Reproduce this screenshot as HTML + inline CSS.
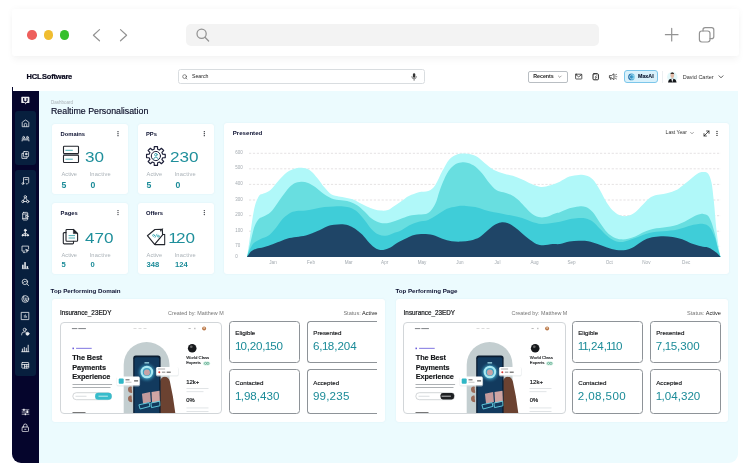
<!DOCTYPE html>
<html><head><meta charset="utf-8">
<style>
*{margin:0;padding:0;box-sizing:border-box}
html,body{width:750px;height:468px;background:#fff;overflow:hidden}
body{position:relative;font-family:"Liberation Sans",sans-serif;color:#0b1030}
.a{position:absolute}
.t{position:absolute;white-space:nowrap;line-height:1}
.card{position:absolute;background:#fff;border-radius:3px;box-shadow:0 0 2px rgba(110,160,180,.13)}
.teal{color:#1b8b98}
.gray{color:#a9b1b7}
svg{position:absolute;overflow:visible}
#w{position:absolute;left:0;top:0;width:750px;height:468px;will-change:transform;transform:translateZ(0)}
</style></head><body><div id="w">

<!-- browser chrome -->
<div class="a" id="chrome" style="left:12px;top:9px;width:727px;height:46.5px;background:#fff;border-radius:3px;box-shadow:0 0 7px rgba(0,0,0,.035),0 5px 6px rgba(0,0,0,.03)"></div>
<div class="a" style="left:27.2px;top:30.2px;width:9.6px;height:9.6px;border-radius:50%;background:#ee5f5c"></div>
<div class="a" style="left:43.6px;top:30.2px;width:9.6px;height:9.6px;border-radius:50%;background:#f0bd30"></div>
<div class="a" style="left:59.8px;top:30.2px;width:9.6px;height:9.6px;border-radius:50%;background:#35c02c"></div>
<svg style="left:0;top:0" width="750" height="60" fill="none" stroke="#939393" stroke-width="1.2" stroke-linecap="round" stroke-linejoin="round">
  <path d="M99.5 29.6 L93.4 35.2 L99.5 40.8"/>
  <path d="M120.5 29.6 L126.6 35.2 L120.5 40.8"/>
  <circle cx="201.6" cy="33.8" r="4.6"/><path d="M205 37.3 L208.6 41"/>
  <path d="M671.7 28.4 V41 M665.4 34.7 H678"/>
  <rect x="699.4" y="31" width="10.6" height="11" rx="2.4"/>
  <path d="M703 31 V29.8 a2.2 2.2 0 0 1 2.2 -2.2 H711.6 a2.2 2.2 0 0 1 2.2 2.2 V36.4 a2.2 2.2 0 0 1 -2.2 2.2 H710"/>
</svg>
<div class="a" style="left:186px;top:24px;width:413px;height:22px;border-radius:5px;background:#f3f3f3"></div>
<svg style="left:0;top:0" width="750" height="60" fill="none" stroke="#939393" stroke-width="1.25" stroke-linecap="round"><circle cx="201.6" cy="33.8" r="4.6"/><path d="M205 37.3 L208.6 41"/></svg>

<!-- app header -->
<div class="t" style="left:26.6px;top:72.8px;font-size:7.5px;font-weight:700;letter-spacing:-.2px;color:#0a0a1e;-webkit-text-stroke:.2px #0a0a1e">HCL<span style="margin-left:.6px">Software</span></div>
<div class="a" style="left:177.5px;top:69.3px;width:247px;height:15px;border:.7px solid #d9dde0;border-radius:2.5px;background:#fff"></div>
<div class="t" style="left:192px;top:74.2px;font-size:5.2px;color:#222">Search</div>
<div class="a" style="left:528.2px;top:70.8px;width:39.6px;height:12px;border:.7px solid #b9bec3;border-radius:2px"></div>
<div class="t" style="left:533.2px;top:74px;font-size:5.3px;font-weight:700;color:#222">Recents</div>
<div class="a" style="left:624px;top:70.3px;width:34px;height:13.2px;border:.8px solid #7cc6ea;border-radius:3px;background:#d9f1fb"></div>
<div class="t" style="left:638px;top:74.1px;font-size:5.3px;font-weight:700;color:#0c1830;-webkit-text-stroke:.12px #0c1830">MaxAI</div>
<div class="a" style="left:662px;top:71px;width:.7px;height:12px;background:#eceff1"></div>
<div class="t" style="left:682.8px;top:74.6px;font-size:5.5px;color:#333">David Carter</div>


<!-- header icons -->
<svg id="hdricons" style="left:0;top:0" width="750" height="95" fill="none" stroke="#222" stroke-width=".75" stroke-linecap="round" stroke-linejoin="round">
 <circle cx="184.6" cy="76.6" r="1.9" stroke="#444" stroke-width=".6"/><path d="M186 78 L187 79" stroke="#444" stroke-width=".6"/>
 <!-- mic -->
 <rect x="412.9" y="73.2" width="2.4" height="4.6" rx="1.2" fill="#333" stroke="none"/><path d="M411.8 76.6 a2.3 2.3 0 0 0 4.6 0 M414.1 79 V80.4" stroke="#333" stroke-width=".6"/>
 <!-- chevron recents -->
 <path d="M558.4 76 L559.8 77.4 L561.2 76" stroke-width=".55" stroke="#555"/>
 <!-- mail -->
 <rect x="575.6" y="74.2" width="6.2" height="4.8" rx=".5"/><path d="M575.8 74.6 L578.7 76.9 L581.6 74.6"/>
 <!-- clipboard -->
 <rect x="593" y="73.8" width="5.4" height="6" rx=".9" stroke-width="1"/><path d="M594.6 73.6 H596.8 M596.6 75.6 L595 77.2 H596.6 L595.4 78.8" stroke-width=".6"/>
 <!-- megaphone -->
 <path d="M609.8 75.6 H611.4 L614 73.8 V79.6 L611.4 77.9 H609.8 Z M610.8 78 V79.6"/><path d="M615.4 75 L616.6 74.4 M615.6 76.7 H616.9 M615.4 78.4 L616.6 79" stroke-width=".55"/>
 <!-- maxai logo -->
 <defs><linearGradient id="mx" x1="0" x2="1"><stop offset="0" stop-color="#1d5f9a"/><stop offset=".6" stop-color="#3aa0d0"/><stop offset="1" stop-color="#a5e3f3"/></linearGradient></defs><circle cx="631.6" cy="76.9" r="3.4" fill="url(#mx)" stroke="none"/><path d="M633.4 75.4 a2.2 2.2 0 1 0 0 3" stroke="#cfeefa" stroke-width=".7"/>
 <!-- avatar -->
 <g stroke="none">
  <circle cx="672.3" cy="77" r="5.2" fill="#e2f7f9"/>
  <path d="M668 82.6 L668.6 80.4 Q669 79.2 670.4 78.9 L672.3 78.4 L674.2 78.9 Q675.6 79.2 676 80.4 L676.6 82.6 Z" fill="#14161a"/>
  <path d="M671.2 78.6 L672.3 82.6 L673.4 78.6 Z" fill="#f4f6f7"/>
  <ellipse cx="672.3" cy="75.4" rx="1.85" ry="2.5" fill="#e2bba8"/>
  <path d="M670.3 74.8 Q670.2 72.4 672.3 72.3 Q674.4 72.4 674.3 74.8 L673.9 73.9 H670.7 Z" fill="#3b2c25"/>
 </g>
 <path d="M719 75.8 L721 77.8 L723 75.8" stroke-width=".8" stroke="#333"/>
 <!-- chart card controls -->
</svg>

<!-- content bg -->
<div class="a" style="left:38.8px;top:90.8px;width:699.4px;height:372.6px;background:#ecfbfe;border-radius:0 0 9px 0"></div>
<!-- sidebar -->
<div class="a" style="left:12.4px;top:90.8px;width:26.6px;height:372.6px;background:#05052c;border-radius:0 0 0 9px"></div>
<div class="a" style="left:12.4px;top:87px;width:.8px;height:5px;background:#05052c"></div>
<div class="a" style="left:15.4px;top:111.2px;width:20.6px;height:54.2px;background:#071f3e;border-radius:3px"></div>
<div class="a" style="left:15.4px;top:169.7px;width:20.6px;height:206.3px;background:#071f3e;border-radius:3px"></div>


<!-- sidebar icons -->
<svg id="sideicons" style="left:0;top:0" width="60" height="468" opacity=".93" fill="none" stroke="#fff" stroke-width=".78" stroke-linecap="round" stroke-linejoin="round">
 <!-- logo -->
 <path d="M21.9 96.7 H28.8 a.6 .6 0 0 1 .6 .6 V102.4 a.6 .6 0 0 1 -.6 .6 H26.5 L25.1 104.6 V103 H21.9 a.6 .6 0 0 1 -.6 -.6 V97.3 a.6 .6 0 0 1 .6 -.6 Z" fill="#fff" stroke="none"/>
 <path d="M23.7 97.9 V100.2 a1.65 1.65 0 0 0 3.3 0 V97.9" stroke="#05052c" stroke-width="1.2" stroke-linecap="butt"/>
 <!-- home -->
 <g transform="translate(25.5 123.3)"><path d="M-3.3 3 V-.7 Q-3.3 -1.1 -3 -1.4 L0 -3.3 L3 -1.4 Q3.3 -1.1 3.3 -.7 V3 Z M-1.2 3 V1.2 a1.2 1.2 0 0 1 2.4 0 V3"/></g>
 <!-- group -->
 <g transform="translate(25.5 138.7)"><circle cx="-1.9" cy="-1.4" r=".9"/><circle cx="1.9" cy="-1.4" r=".9"/><path d="M-3.4 2.3 V1.2 H3.4 V2.3 M-3.4 .2 H3.4"/></g>
 <!-- images -->
 <g transform="translate(25.2 155)"><rect x="-1.8" y="-3.4" width="5.2" height="5.2" rx=".8"/><path d="M-1.8 -1.6 H-3.3 V3.4 H1.8 V1.8"/><circle cx="1" cy="-1" r=".8" fill="#fff"/></g>
 <!-- note -->
 <g transform="translate(25.5 181)"><path d="M-2 2 V-3.4 H3.2 V.6 M-.4 -1.4 H1.8"/><circle cx="-2.6" cy="2.6" r=".9"/><path d="M.6 2.4 L1.6 3.3 L3.3 1.4"/></g>
 <!-- network -->
 <g transform="translate(25.3 199.2)"><circle cx="0" cy="-2.4" r="1.2"/><circle cx="-2.4" cy="2.3" r="1.2"/><circle cx="2.4" cy="2.3" r="1.2"/><path d="M-.6 -1.3 L-1.9 1.2 M.6 -1.3 L1.9 1.2 M-1.2 2.3 H1.2"/></g>
 <!-- device -->
 <g transform="translate(25.5 216.2)"><rect x="-2.8" y="-3.8" width="5" height="7.6" rx=".9"/><path d="M-2.8 -2.2 H2.2 M-2.8 2.2 H2.2 M.6 -.9 L3.2 .2 L.6 1.2 Z" /></g>
 <!-- hierarchy -->
 <g transform="translate(25.3 232.7)"><circle cx="0" cy="-2.4" r="1" fill="#fff"/><path d="M0 -1.4 V3 M0 .4 L-2.6 1.8 V3 M0 .4 L2.6 1.8 V3"/><circle cx="-2.6" cy="2.6" r=".7" fill="#fff"/><circle cx="2.6" cy="2.6" r=".7" fill="#fff"/><circle cx="0" cy="2.6" r=".7" fill="#fff"/></g>
 <!-- monitor -->
 <g transform="translate(25.3 249.3)"><path d="M-.8 1.8 H-3.3 V-3.2 H3.3 V-.4 M-2 3.3 H-.2"/><path d="M.6 0 L3.4 1 L2.2 1.6 L1.6 2.8 Z" fill="#fff" stroke-width=".5"/></g>
 <!-- bars -->
 <g transform="translate(25.3 265.5)" stroke="none" fill="#fff"><rect x="-3.2" y="-.8" width="1.5" height="4"/><rect x="-1" y="-3.4" width="1.5" height="6.6"/><rect x="1.3" y=".6" width="1.5" height="2.6"/><rect x="-3.4" y="3" width="7" height=".6"/></g>
 <!-- search analytic -->
 <g transform="translate(25.3 282.3)"><circle cx="-.4" cy="-.4" r="2.7"/><path d="M1.6 1.6 L3.4 3.3 M-1.8 .2 L-.6 -1 L.2 -.2 L1.2 -1.4"/></g>
 <!-- gauge -->
 <g transform="translate(25.3 299)"><circle cx="0" cy="0" r="3.4"/><path d="M-1.6 -2.9 V.4 a1.6 1.6 0 0 0 3.2 0 V-1 M0 -1 V.6 M2.2 2.4 L1.2 1.2"/></g>
 <!-- square chart -->
 <g transform="translate(25.2 316)"><rect x="-3.6" y="-3.6" width="7.2" height="7.2" stroke-width=".8"/><path d="M-.9 -.6 V1.4 M.2 -1.2 V1.4 M1.3 .2 V1.4" stroke-width=".6"/></g>
 <!-- user settings -->
 <g transform="translate(25.3 331.7)"><circle cx="-.6" cy="-2" r="1.5"/><path d="M-3.6 3.2 V2.6 a2.4 2.4 0 0 1 2.4 -2.4 H.2"/><circle cx="2.2" cy="2" r="1.5" fill="#fff"/></g>
 <!-- bars2 -->
 <g transform="translate(25.3 348.4)" stroke-width=".9"><path d="M-2.9 3 V.6 M-1 3 V-1 M1 3 V-.2 M2.9 3 V-3.2 M-3.6 3.3 H3.6" /></g>
 <!-- table -->
 <g transform="translate(25.3 365.3)"><rect x="-3.4" y="-2.8" width="6.8" height="5.6" rx=".4"/><path d="M-3.4 -.8 H3.4 M-.8 -.8 V2.8 M-.8 1 H3.4 M1.4 -.8 V2.8"/></g>
 <!-- sliders -->
 <g transform="translate(25.5 412)" stroke-width=".7"><path d="M-3.4 -2.2 H3.4 M-3.4 0 H3.4 M-3.4 2.2 H3.4"/><rect x="-2.4" y="-3.2" width="1.6" height="2" fill="#fff" stroke="none"/><rect x="1" y="-1.6" width="1.6" height="2.6" fill="#fff" stroke="none"/><rect x="-.8" y="1.4" width="1.4" height="1.8" fill="#fff" stroke="none"/></g>
 <!-- lock -->
 <g transform="translate(25.3 428)"><rect x="-3.2" y="-1" width="6.4" height="4.6" rx=".8"/><path d="M-1.8 -1 V-2.2 a1.8 1.8 0 0 1 3.6 0 V-1 M-.6 1.3 H.6" /></g>
</svg>

<!-- titles -->
<div class="t gray" style="left:51px;top:101.2px;font-size:4.5px">Dashboard</div>
<div class="t" style="left:51px;top:107px;font-size:8.8px;color:#0a0c26;-webkit-text-stroke:.15px #0a0c26">Realtime Personalisation</div>

<!-- stat cards -->
<div class="card" style="left:52.2px;top:123.6px;width:75.8px;height:70.9px"></div>
<div class="card" style="left:138.2px;top:123.6px;width:76.2px;height:70.9px"></div>
<div class="card" style="left:52.2px;top:202.6px;width:75.8px;height:71.8px"></div>
<div class="card" style="left:138.2px;top:202.6px;width:76.2px;height:71.8px"></div>

<div class="t" style="left:60.6px;top:131.6px;font-size:5.8px;font-weight:700">Domains</div>
<div class="t" style="left:146px;top:131.6px;font-size:5.8px;font-weight:700">PPs</div>
<div class="t" style="left:60.6px;top:210.7px;font-size:5.8px;font-weight:700">Pages</div>
<div class="t" style="left:146px;top:210.7px;font-size:5.8px;font-weight:700">Offers</div>

<div class="t teal" style="left:84.5px;top:148.7px;font-size:15px;color:#1f8f9b;transform:scaleX(1.14);transform-origin:left">30</div>
<div class="t teal" style="left:169.6px;top:148.7px;font-size:15px;color:#1f8f9b;transform:scaleX(1.14);transform-origin:left">230</div>
<div class="t teal" style="left:84.5px;top:230.3px;font-size:15px;color:#1f8f9b;transform:scaleX(1.14);transform-origin:left">470</div>
<div class="t teal" style="left:170.4px;top:230.3px;font-size:15px;color:#1f8f9b;transform:scaleX(1.14);transform-origin:left"><span style="margin-left:-1.6px;margin-right:-1.4px">1</span>20</div>

<div class="t gray" style="left:61.5px;top:172.1px;font-size:5.7px">Active</div>
<div class="t gray" style="left:89.6px;top:172.1px;font-size:5.7px;letter-spacing:.2px">Inactive</div>
<div class="t gray" style="left:146.6px;top:172.1px;font-size:5.7px">Active</div>
<div class="t gray" style="left:174.6px;top:172.1px;font-size:5.7px;letter-spacing:.2px">Inactive</div>
<div class="t gray" style="left:61.5px;top:252.6px;font-size:5.7px">Active</div>
<div class="t gray" style="left:89.6px;top:252.6px;font-size:5.7px;letter-spacing:.2px">Inactive</div>
<div class="t gray" style="left:146.6px;top:252.6px;font-size:5.7px">Active</div>
<div class="t gray" style="left:174.6px;top:252.6px;font-size:5.7px;letter-spacing:.2px">Inactive</div>

<div class="t teal" style="left:61.5px;top:180.6px;font-size:8.7px;font-weight:700">5</div>
<div class="t teal" style="left:90.5px;top:180.6px;font-size:8.7px;font-weight:700">0</div>
<div class="t teal" style="left:146.6px;top:180.6px;font-size:8.7px;font-weight:700">5</div>
<div class="t teal" style="left:175.4px;top:180.6px;font-size:8.7px;font-weight:700">0</div>
<div class="t teal" style="left:61.5px;top:260.6px;font-size:7.6px;font-weight:700">5</div>
<div class="t teal" style="left:90.5px;top:260.6px;font-size:7.6px;font-weight:700">0</div>
<div class="t teal" style="left:146.6px;top:260.6px;font-size:7.6px;font-weight:700">348</div>
<div class="t teal" style="left:175px;top:260.6px;font-size:7.6px;font-weight:700">124</div>


<!-- card icons -->
<svg id="cardicons" style="left:0;top:0" width="230" height="290" fill="none" stroke="#23262d" stroke-width="1.1" stroke-linecap="round" stroke-linejoin="round">
 <!-- server -->
 <rect x="63.4" y="153.4" width="15.2" height="2" fill="#8d9096" stroke="none"/><rect x="63.5" y="146.3" width="15" height="7.2" rx=".8"/><rect x="63.5" y="155.3" width="15" height="7.2" rx=".8"/>
 <path d="M65.8 150.3 H72.4 M65.8 159.2 H72.4" stroke="#3aa7ae" stroke-width=".9"/>
 <!-- gear -->
 <g transform="translate(155.9 156)">
  <path d="M-1.73 -6.78 L-1.61 -9.36 L1.61 -9.36 L1.73 -6.78 L3.57 -6.02 L5.48 -7.76 L7.76 -5.48 L6.02 -3.57 L6.78 -1.73 L9.36 -1.61 L9.36 1.61 L6.78 1.73 L6.02 3.57 L7.76 5.48 L5.48 7.76 L3.57 6.02 L1.73 6.78 L1.61 9.36 L-1.61 9.36 L-1.73 6.78 L-3.57 6.02 L-5.48 7.76 L-7.76 5.48 L-6.02 3.57 L-6.78 1.73 L-9.36 1.61 L-9.36 -1.61 L-6.78 -1.73 L-6.02 -3.57 L-7.76 -5.48 L-5.48 -7.76 L-3.57 -6.02Z" stroke="#1d1f38" stroke-width="1.15" stroke-linejoin="round"/>
  <circle r="4.6" stroke="#1d1f38" stroke-width="1"/>
  <circle cy="-1.3" r="1.3" stroke="#2b9aa5" stroke-width=".85"/>
  <path d="M-2.3 3 a2.4 2.6 0 0 1 4.6 0" stroke="#2b9aa5" stroke-width=".85"/>
 </g>
 <!-- pages -->
 <path d="M66 232.6 V230.4 a.9 .9 0 0 1 .9 -.9 H73.4 L77.6 233.6 V240.4 a.9 .9 0 0 1 -.9 .9 H66.9 a.9 .9 0 0 1 -.9 -.9 Z"/>
 <path d="M73.4 229.6 V233.6 H77.6 Z" fill="#23262d" stroke-width=".6"/>
 <path d="M66 232.6 H64.2 a.9 .9 0 0 0 -.9 .9 V243 a.9 .9 0 0 0 .9 .9 H72.6 a.9 .9 0 0 0 .9 -.9 V241.4"/>
 <path d="M69 235.6 H74.6 M69 238 H74.6" stroke="#3aa7ae" stroke-width=".9"/>
 <!-- tag -->
 <g>
  <path d="M147.4 235.7 L154.9 229.5 L162.3 229.3 L162.6 234.9 L154.6 244.3 Z" stroke-width="1.15"/>
  <path d="M162.6 234.6 L164.7 234.4 V244.6 H155" stroke-width="1.05"/>
  <circle cx="160.8" cy="230.8" r=".75" fill="#23262d" stroke="none"/>
  <path d="M160.8 230.8 L162.6 228.6" stroke-width=".7"/>
  <g stroke="#2fa3ad" stroke-width=".75"><circle cx="153.6" cy="235.4" r=".95"/><circle cx="158.3" cy="236.2" r=".95"/><path d="M155 237.4 L156.9 234.2"/></g>
 </g>
 <!-- kebabs -->
 <g fill="#23262d" stroke="none">
  <circle cx="118" cy="131.7" r=".65"/><circle cx="118" cy="133.7" r=".65"/><circle cx="118" cy="135.7" r=".65"/>
  <circle cx="204.3" cy="131.7" r=".65"/><circle cx="204.3" cy="133.7" r=".65"/><circle cx="204.3" cy="135.7" r=".65"/>
  <circle cx="118" cy="210.6" r=".65"/><circle cx="118" cy="212.6" r=".65"/><circle cx="118" cy="214.6" r=".65"/>
  <circle cx="204.3" cy="210.6" r=".65"/><circle cx="204.3" cy="212.6" r=".65"/><circle cx="204.3" cy="214.6" r=".65"/>
 </g>
</svg>

<!-- chart card -->
<div class="card" style="left:224px;top:123.4px;width:504.5px;height:151px"></div>
<div class="t" style="left:232.8px;top:129.8px;font-size:6.1px;font-weight:700">Presented</div>
<div class="t" style="left:665.6px;top:130.4px;font-size:5.1px;color:#333">Last Year</div>

<svg id="chart" style="left:0;top:0" width="750" height="468">
<path d="M249.0 153.3 H721" stroke="#d3cfd0" stroke-width=".6" stroke-dasharray="2.2 1.7" fill="none"/>
<path d="M249.0 168.8 H721" stroke="#d3cfd0" stroke-width=".6" stroke-dasharray="2.2 1.7" fill="none"/>
<path d="M249.0 184.4 H721" stroke="#d3cfd0" stroke-width=".6" stroke-dasharray="2.2 1.7" fill="none"/>
<path d="M249.0 200.0 H721" stroke="#d3cfd0" stroke-width=".6" stroke-dasharray="2.2 1.7" fill="none"/>
<path d="M249.0 215.7 H721" stroke="#d3cfd0" stroke-width=".6" stroke-dasharray="2.2 1.7" fill="none"/>
<path d="M249.0 231.2 H721" stroke="#d3cfd0" stroke-width=".6" stroke-dasharray="2.2 1.7" fill="none"/>
<path d="M249.0 246.4 H721" stroke="#d3cfd0" stroke-width=".6" stroke-dasharray="2.2 1.7" fill="none"/>
<path d="M247.0 256.9 C247.5 254.0 248.8 245.4 249.6 239.3 C250.5 233.2 251.3 226.1 252.2 220.5 C253.1 214.8 253.9 209.6 255.0 205.5 C256.2 201.3 257.9 197.6 259.3 195.6 C260.7 193.6 261.6 194.4 263.5 193.5 C265.4 192.5 268.2 191.9 270.5 189.9 C272.9 188.0 274.9 184.7 277.6 181.7 C280.3 178.8 283.9 174.6 287.0 172.3 C290.1 170.1 293.6 169.0 296.4 168.3 C299.1 167.6 301.1 167.7 303.4 168.1 C305.8 168.5 308.1 169.0 310.5 170.7 C312.8 172.4 315.2 175.4 317.5 178.2 C319.9 181.0 322.2 184.9 324.6 187.6 C326.9 190.3 329.3 193.2 331.6 194.6 C334.0 196.1 336.3 196.0 338.7 196.5 C341.0 197.0 343.4 197.2 345.7 197.7 C348.1 198.2 350.4 198.5 352.8 199.3 C355.1 200.2 357.5 201.7 359.8 202.9 C362.2 204.0 364.5 205.3 366.9 206.4 C369.2 207.4 371.6 208.5 373.9 209.2 C376.3 209.9 378.6 210.5 381.0 210.6 C383.3 210.7 385.7 210.8 388.0 209.9 C390.4 209.1 392.3 207.3 395.1 205.5 C397.8 203.6 402.1 200.5 404.5 198.9 C406.9 197.3 407.0 196.9 409.4 195.8 C411.8 194.7 415.7 193.1 418.8 192.3 C421.9 191.5 425.5 192.3 428.2 191.1 C430.9 189.9 432.9 188.6 435.2 185.2 C437.6 181.9 439.9 175.5 442.3 171.1 C444.6 166.8 447.0 162.1 449.3 159.4 C451.7 156.7 454.0 155.7 456.4 154.7 C458.7 153.7 461.1 153.6 463.4 153.5 C465.8 153.4 468.1 153.6 470.5 154.2 C472.8 154.8 475.2 155.6 477.5 157.0 C479.9 158.5 481.8 160.8 484.6 162.9 C487.3 165.1 490.9 168.2 494.0 170.0 C497.1 171.7 500.3 172.5 503.4 173.5 C506.5 174.5 509.6 174.9 512.8 175.8 C515.9 176.8 519.0 178.0 522.2 179.4 C525.3 180.7 528.4 182.8 531.6 184.1 C534.7 185.3 537.8 186.7 541.0 186.9 C544.1 187.1 547.2 186.1 550.4 185.2 C553.5 184.4 556.6 183.2 559.8 181.7 C562.9 180.3 566.2 177.7 569.4 176.6 C572.6 175.4 576.1 175.1 578.8 174.9 C581.5 174.7 583.5 174.6 585.8 175.4 C588.2 176.1 590.5 176.9 592.9 179.4 C595.2 181.8 597.6 186.0 599.9 189.9 C602.3 193.9 604.6 199.3 607.0 202.9 C609.3 206.5 611.7 209.4 614.0 211.6 C616.4 213.7 618.7 215.1 621.1 215.8 C623.4 216.5 625.8 216.4 628.1 215.8 C630.5 215.2 632.8 214.0 635.2 212.3 C637.5 210.5 639.9 207.6 642.2 205.2 C644.6 202.9 646.9 199.9 649.3 198.2 C651.6 196.5 654.0 195.8 656.3 195.1 C658.7 194.4 661.0 194.4 663.4 193.9 C665.7 193.5 668.1 193.0 670.4 192.3 C672.8 191.5 675.1 190.8 677.5 189.5 C679.8 188.1 682.2 185.9 684.5 184.1 C686.9 182.2 689.2 180.0 691.6 178.2 C693.9 176.4 696.7 174.1 698.6 173.0 C700.6 172.0 701.8 171.8 703.3 171.9 C704.9 171.9 706.7 171.7 708.0 173.5 C709.4 175.3 710.6 178.2 711.6 182.9 C712.5 187.6 713.1 194.3 713.9 201.7 C714.7 209.1 715.5 220.1 716.2 227.5 C717.0 235.0 717.9 241.4 718.6 246.3 C719.3 251.2 720.2 255.1 720.5 256.9Z" fill="#b0f8f9"/>
<path d="M247.0 256.9 C247.5 255.1 248.8 250.0 249.6 246.3 C250.5 242.7 251.4 238.5 252.2 235.1 C253.1 231.6 253.6 228.4 254.8 225.7 C256.0 222.9 257.8 220.1 259.3 218.6 C260.7 217.1 261.6 217.6 263.5 216.5 C265.4 215.4 268.2 214.5 270.5 212.3 C272.9 210.0 274.9 206.6 277.6 202.9 C280.3 199.1 284.3 193.2 287.0 189.9 C289.7 186.7 291.7 185.0 294.0 183.6 C296.4 182.2 298.7 181.8 301.1 181.7 C303.4 181.6 305.8 182.0 308.1 182.9 C310.5 183.8 312.4 185.2 315.2 187.1 C317.9 189.1 321.5 192.6 324.6 194.6 C327.7 196.7 330.9 198.4 334.0 199.3 C337.1 200.3 340.6 200.1 343.4 200.5 C346.1 200.9 348.1 201.1 350.4 201.9 C352.8 202.7 355.1 203.8 357.5 205.5 C359.8 207.1 362.2 209.4 364.5 211.6 C366.9 213.8 368.8 216.7 371.6 218.6 C374.3 220.5 377.8 222.4 381.0 223.1 C384.1 223.7 387.2 223.0 390.4 222.4 C393.5 221.7 396.6 220.4 399.8 219.3 C402.9 218.2 406.2 216.6 409.4 215.8 C412.6 215.0 415.7 215.1 418.8 214.6 C421.9 214.1 425.5 214.7 428.2 213.0 C430.9 211.2 433.3 207.9 435.2 204.0 C437.2 200.2 438.0 195.0 439.9 189.9 C441.9 184.9 444.6 177.6 447.0 173.5 C449.3 169.4 451.7 167.1 454.0 165.3 C456.4 163.4 458.7 162.8 461.1 162.5 C463.4 162.1 465.8 162.3 468.1 162.9 C470.5 163.6 472.8 164.7 475.2 166.4 C477.5 168.2 479.9 170.8 482.2 173.5 C484.6 176.2 486.9 180.2 489.3 182.9 C491.6 185.6 494.0 188.4 496.3 189.9 C498.7 191.5 501.0 191.5 503.4 192.3 C505.7 193.1 508.1 193.5 510.4 194.6 C512.8 195.8 515.1 197.4 517.5 199.3 C519.8 201.3 522.2 204.0 524.5 206.4 C526.9 208.7 529.2 211.7 531.6 213.4 C533.9 215.2 536.3 216.4 538.6 217.0 C541.0 217.6 542.9 217.6 545.7 217.0 C548.4 216.4 552.7 214.2 555.1 213.4 C557.5 212.7 557.6 213.1 560.0 212.3 C562.4 211.4 566.3 209.2 569.4 208.3 C572.5 207.3 576.1 206.6 578.8 206.4 C581.5 206.2 583.5 206.1 585.8 207.1 C588.2 208.1 590.5 209.6 592.9 212.3 C595.2 214.9 597.6 219.5 599.9 222.8 C602.3 226.2 604.6 229.8 607.0 232.2 C609.3 234.7 611.7 236.2 614.0 237.4 C616.4 238.6 618.7 239.1 621.1 239.3 C623.4 239.5 625.8 239.3 628.1 238.8 C630.5 238.3 632.8 237.5 635.2 236.5 C637.5 235.4 639.9 233.8 642.2 232.7 C644.6 231.6 646.9 230.6 649.3 229.9 C651.6 229.1 654.0 228.6 656.3 228.2 C658.7 227.9 661.0 227.9 663.4 227.5 C665.7 227.2 668.1 226.8 670.4 226.4 C672.8 225.9 675.1 225.5 677.5 224.7 C679.8 223.9 682.2 222.8 684.5 221.7 C686.9 220.5 689.2 218.8 691.6 217.7 C693.9 216.5 696.7 215.2 698.6 214.6 C700.6 214.0 701.8 213.7 703.3 213.9 C704.9 214.1 706.7 214.3 708.0 215.8 C709.4 217.3 710.4 219.7 711.6 222.8 C712.7 226.0 714.0 230.5 715.1 234.6 C716.1 238.7 717.0 243.8 717.9 247.5 C718.8 251.2 720.0 255.3 720.5 256.9Z" fill="#68dee0"/>
<path d="M247.0 256.9 C247.4 256.0 248.2 253.2 248.9 251.5 C249.6 249.8 250.4 248.3 251.3 246.8 C252.1 245.4 252.5 244.1 254.1 242.8 C255.7 241.5 258.8 240.0 261.1 238.8 C263.5 237.6 265.8 237.4 268.2 235.8 C270.5 234.1 272.9 231.5 275.2 228.7 C277.6 226.0 279.9 221.9 282.3 219.3 C284.6 216.8 287.0 214.8 289.3 213.4 C291.7 212.1 293.6 211.6 296.4 211.1 C299.1 210.6 302.7 211.0 305.8 210.6 C308.9 210.2 312.1 209.3 315.2 208.7 C318.3 208.2 321.5 207.5 324.6 207.1 C327.7 206.7 330.9 206.5 334.0 206.4 C337.1 206.3 340.6 206.2 343.4 206.4 C346.1 206.6 348.1 206.9 350.4 207.8 C352.8 208.7 355.1 210.0 357.5 212.0 C359.8 214.1 362.2 217.2 364.5 220.0 C366.9 222.9 369.2 226.8 371.6 229.2 C373.9 231.6 376.3 233.5 378.6 234.6 C381.0 235.7 383.3 236.0 385.7 235.8 C388.0 235.6 390.3 234.2 392.7 233.4 C395.1 232.6 397.2 232.4 400.0 231.1 C402.8 229.7 406.3 226.8 409.4 225.2 C412.5 223.6 415.7 222.5 418.8 221.7 C421.9 220.8 425.1 221.2 428.2 220.0 C431.3 218.8 434.5 216.5 437.6 214.6 C440.7 212.7 443.9 210.1 447.0 208.7 C450.1 207.4 453.3 206.9 456.4 206.4 C459.5 205.9 462.7 205.8 465.8 205.9 C468.9 206.0 472.1 206.4 475.2 207.1 C478.3 207.8 481.5 209.1 484.6 209.9 C487.7 210.8 490.9 211.6 494.0 212.3 C497.1 212.9 500.3 213.3 503.4 213.9 C506.5 214.5 509.6 215.1 512.8 215.8 C515.9 216.5 519.0 217.2 522.2 218.1 C525.3 219.1 528.4 220.7 531.6 221.7 C534.7 222.6 537.8 223.7 541.0 224.0 C544.1 224.3 547.2 223.7 550.4 223.3 C553.5 222.9 556.8 222.3 560.0 221.7 C563.2 221.0 566.3 219.9 569.4 219.3 C572.5 218.7 576.1 218.3 578.8 218.1 C581.5 218.0 583.5 218.0 585.8 218.6 C588.2 219.2 590.5 220.0 592.9 221.7 C595.2 223.3 597.6 226.4 599.9 228.7 C602.3 231.1 604.6 233.8 607.0 235.8 C609.3 237.7 611.7 239.4 614.0 240.5 C616.4 241.5 618.7 242.1 621.1 242.1 C623.4 242.1 625.8 241.1 628.1 240.5 C630.5 239.8 632.8 239.0 635.2 238.1 C637.5 237.2 639.9 236.2 642.2 235.3 C644.6 234.4 646.9 233.5 649.3 232.9 C651.6 232.4 654.0 232.0 656.3 231.8 C658.7 231.5 661.0 231.5 663.4 231.3 C665.7 231.1 668.1 230.9 670.4 230.6 C672.8 230.3 675.1 229.9 677.5 229.4 C679.8 228.9 682.2 228.2 684.5 227.5 C686.9 226.8 689.2 225.8 691.6 225.2 C693.9 224.6 696.7 224.2 698.6 224.0 C700.6 223.8 701.8 223.7 703.3 224.0 C704.9 224.3 706.7 224.7 708.0 225.7 C709.4 226.6 710.4 227.8 711.6 229.9 C712.7 232.0 714.0 235.0 715.1 238.1 C716.1 241.2 717.0 245.6 717.9 248.7 C718.8 251.8 720.0 255.5 720.5 256.9Z" fill="#3fcdd8"/>
<path d="M247.0 256.9 C247.4 256.3 248.6 254.4 249.4 253.4 C250.2 252.4 250.6 251.8 251.7 251.0 C252.9 250.3 254.5 249.3 256.4 248.7 C258.4 248.1 261.1 247.9 263.5 247.3 C265.8 246.6 267.8 245.9 270.5 244.9 C273.3 243.9 276.8 242.5 279.9 241.4 C283.1 240.3 286.2 238.9 289.3 238.1 C292.5 237.3 295.6 237.2 298.7 236.7 C301.9 236.2 305.0 235.8 308.1 234.8 C311.3 233.9 314.4 232.5 317.5 231.1 C320.7 229.7 324.2 227.4 326.9 226.4 C329.7 225.3 331.6 225.1 334.0 224.7 C336.3 224.4 338.7 224.2 341.0 224.2 C343.4 224.3 345.7 224.4 348.1 225.2 C350.4 225.9 352.8 227.1 355.1 228.7 C357.5 230.3 359.8 232.2 362.2 234.6 C364.5 236.9 366.9 240.5 369.2 242.8 C371.6 245.2 373.9 247.5 376.3 248.7 C378.6 249.9 381.0 250.1 383.3 249.9 C385.7 249.7 388.0 248.7 390.4 247.5 C392.7 246.3 394.6 244.4 397.4 242.8 C400.2 241.2 404.3 239.4 407.0 238.1 C409.8 236.8 411.4 235.7 414.1 235.1 C416.8 234.4 420.4 234.1 423.5 234.1 C426.6 234.1 429.8 234.3 432.9 235.1 C436.0 235.8 439.2 237.8 442.3 238.8 C445.4 239.8 448.6 240.7 451.7 241.2 C454.8 241.6 458.0 241.8 461.1 241.6 C464.2 241.5 467.4 241.2 470.5 240.5 C473.6 239.7 477.1 238.5 479.9 236.9 C482.6 235.4 484.6 233.0 486.9 231.1 C489.3 229.1 491.6 226.6 494.0 225.2 C496.3 223.7 498.7 222.7 501.0 222.4 C503.4 222.1 505.7 222.4 508.1 223.3 C510.4 224.2 512.8 225.9 515.1 227.5 C517.5 229.2 519.8 231.5 522.2 233.4 C524.5 235.4 526.9 237.5 529.2 239.3 C531.6 241.0 533.9 243.0 536.3 244.0 C538.6 245.0 540.6 245.2 543.3 245.2 C546.1 245.2 549.9 244.2 552.7 244.0 C555.5 243.8 557.2 244.4 560.0 244.0 C562.8 243.6 566.3 242.2 569.4 241.6 C572.5 241.1 575.7 240.8 578.8 240.7 C581.9 240.6 585.1 240.6 588.2 241.2 C591.3 241.7 594.5 242.9 597.6 244.0 C600.7 245.0 603.9 246.5 607.0 247.5 C610.1 248.5 613.3 249.5 616.4 249.9 C619.5 250.3 623.0 250.3 625.8 249.9 C628.5 249.5 630.5 248.7 632.8 247.5 C635.2 246.3 637.5 244.3 639.9 242.8 C642.2 241.4 644.6 239.8 646.9 238.8 C649.3 237.8 651.2 237.4 654.0 236.9 C656.7 236.5 660.3 236.2 663.4 236.2 C666.5 236.2 669.6 236.4 672.8 236.9 C675.9 237.4 679.0 238.2 682.2 239.3 C685.3 240.4 688.4 242.3 691.6 243.5 C694.7 244.7 698.2 245.7 701.0 246.3 C703.7 247.0 706.1 246.9 708.0 247.5 C710.0 248.1 711.2 248.9 712.7 249.9 C714.3 250.8 716.1 252.2 717.4 253.4 C718.7 254.6 720.0 256.3 720.5 256.9Z" fill="#1f4567"/>
</svg>

<svg style="left:0;top:0" width="750" height="140" fill="none" stroke="#222" stroke-width=".75" stroke-linecap="round" stroke-linejoin="round">
 <path d="M690.6 132.4 L692 133.8 L693.4 132.4" stroke="#555" stroke-width=".55"/>
 <path d="M704 136 L709 131 M704 133.6 V136 H706.4 M706.6 131 H709 V133.4" stroke-width=".8"/>
 <g fill="#222" stroke="none"><circle cx="717" cy="131.4" r=".65"/><circle cx="717" cy="133.4" r=".65"/><circle cx="717" cy="135.4" r=".65"/></g>
</svg>
<div class="t" style="left:235.2px;top:150.6px;font-size:4.5px;color:#a2a9af">600</div>
<div class="t" style="left:235.2px;top:166.1px;font-size:4.5px;color:#a2a9af">500</div>
<div class="t" style="left:235.2px;top:181.8px;font-size:4.5px;color:#a2a9af">400</div>
<div class="t" style="left:235.2px;top:197.6px;font-size:4.5px;color:#a2a9af">300</div>
<div class="t" style="left:235.2px;top:213.4px;font-size:4.5px;color:#a2a9af">200</div>
<div class="t" style="left:235.2px;top:228.5px;font-size:4.5px;color:#a2a9af">100</div>
<div class="t" style="left:235.2px;top:243.7px;font-size:4.5px;color:#a2a9af">70</div>
<div class="t" style="left:235.2px;top:254.9px;font-size:4.5px;color:#a2a9af">0</div>
<div class="t" style="left:267.0px;top:260.5px;width:12px;text-align:center;font-size:4.6px;color:#a2a9af">Jan</div>
<div class="t" style="left:305.0px;top:260.5px;width:12px;text-align:center;font-size:4.6px;color:#a2a9af">Feb</div>
<div class="t" style="left:342.7px;top:260.5px;width:12px;text-align:center;font-size:4.6px;color:#a2a9af">Mar</div>
<div class="t" style="left:378.7px;top:260.5px;width:12px;text-align:center;font-size:4.6px;color:#a2a9af">Apr</div>
<div class="t" style="left:416.0px;top:260.5px;width:12px;text-align:center;font-size:4.6px;color:#a2a9af">May</div>
<div class="t" style="left:453.9px;top:260.5px;width:12px;text-align:center;font-size:4.6px;color:#a2a9af">Jun</div>
<div class="t" style="left:491.5px;top:260.5px;width:12px;text-align:center;font-size:4.6px;color:#a2a9af">Jul</div>
<div class="t" style="left:528.5px;top:260.5px;width:12px;text-align:center;font-size:4.6px;color:#a2a9af">Aug</div>
<div class="t" style="left:565.6px;top:260.5px;width:12px;text-align:center;font-size:4.6px;color:#a2a9af">Sep</div>
<div class="t" style="left:603.3px;top:260.5px;width:12px;text-align:center;font-size:4.6px;color:#a2a9af">Oct</div>
<div class="t" style="left:640.4px;top:260.5px;width:12px;text-align:center;font-size:4.6px;color:#a2a9af">Nov</div>
<div class="t" style="left:680.2px;top:260.5px;width:12px;text-align:center;font-size:4.6px;color:#a2a9af">Dec</div>
<!-- bottom -->
<div class="t" style="left:50.6px;top:288px;font-size:6.2px;font-weight:700">Top Performing Domain</div>
<div class="t" style="left:395.4px;top:288px;font-size:6.2px;font-weight:700">Top Performing Page</div>
<div class="card" style="left:52px;top:299.2px;width:333px;height:122.6px"></div>
<div class="card" style="left:395.8px;top:299.2px;width:332.7px;height:122.6px"></div>


<div class="t" style="left:60px;top:310.4px;font-size:6.3px;color:#15171a;letter-spacing:.02px;-webkit-text-stroke:.2px #15171a">Insurance_23EDY</div>
<div class="t" style="left:168px;top:310.8px;font-size:5.4px;color:#777">Created by: Matthew M</div>
<div class="t" style="left:343.4px;top:310.8px;font-size:5.6px;color:#777">Status: <span style="color:#222">Active</span></div>

<div class="a" style="left:59.5px;top:321.6px;width:162.8px;height:92.2px;border:.8px solid #d2d6d9;border-radius:4px;background:#fff;overflow:hidden">
 <svg style="left:-.8px;top:-.8px" width="163" height="93" viewBox="59.5 321.6 163 93">
  <!-- arch -->
  <path d="M123.2 414 V364.4 a22.9 22.9 0 0 1 45.8 0 V414 Z" fill="#c3ced0"/>
  <!-- hand -->
  <path d="M152 414 L156 405 L159.6 400 V380.6 Q160.6 376.6 164.2 376.4 Q168 376.4 169.4 381 L172.4 396 L175 414 Z" fill="#6b4231"/>
  <path d="M131 386.6 q-2.6 .4 -2.4 2.6 t3 2.2 M131 396 q-2.6 .4 -2.4 2.6 t3 2.2" fill="#9a6a58" stroke="#9a6a58" stroke-width="2.2"/>
  <!-- phone -->
  <rect x="132.7" y="355.2" width="27.4" height="64" rx="2.6" fill="#0a1c30"/>
  <rect x="134" y="356.8" width="24.8" height="60" rx="1.8" fill="#123a5e"/>
  <circle cx="146.4" cy="372" r="11" fill="url(#glow1)"/>
  <circle cx="146.4" cy="371.6" r="5.2" fill="none" stroke="#a9e8f2" stroke-width="2.2"/>
  <circle cx="146.4" cy="372.2" r="3" fill="#c7a3a6"/>
  <rect x="144" y="361.6" width="4.6" height="1.6" fill="#9fd9e6" opacity=".8"/>
  <path d="M141.4 393.4 L149.6 391.6 L150.4 401.6 L142.6 403.4 Z" fill="#c49a9c"/><path d="M151 391.6 L159 390.4 L159.4 401 L151.6 402.6 Z" fill="#cfa5a4"/>
  <path d="M138.4 404.4 L148.6 402.2 L149.4 406 L139.6 408.6 Z M150.4 402.6 L159.2 400.8 L159.4 405.4 L151 407.2 Z" fill="none" stroke="#67d3e4" stroke-width=".9"/>
  <defs><radialGradient id="glow1"><stop offset="0" stop-color="#58c4dd"/><stop offset=".55" stop-color="#3a9cc0" stop-opacity=".85"/><stop offset="1" stop-color="#123a5e" stop-opacity="0"/></radialGradient></defs>
  <!-- floating cards -->
  <rect x="116" y="376.6" width="23.6" height="9.4" rx="1.6" fill="#dfe5e7" opacity=".6"/><rect x="116.4" y="376.2" width="22.6" height="8.6" rx="1.2" fill="#fff"/><rect x="118.2" y="378.2" width="5" height="5.2" rx="1" fill="#2fb7c6"/><rect x="125" y="379" width="4" height=".9" fill="#444"/><rect x="125" y="381.4" width="6" height=".7" fill="#aaa"/><rect x="133.6" y="380" width="4" height="1" fill="#333"/>
  <rect x="155.4" y="366.8" width="22.8" height="9.2" rx="1.6" fill="#e3e8ea" opacity=".7"/><rect x="155.9" y="366.6" width="21.6" height="8.2" rx="1.2" fill="#fff"/><rect x="157.6" y="368.2" width="7" height=".8" fill="#999"/><circle cx="158.8" cy="371.8" r="1" fill="#d9362f"/><rect x="161.4" y="371.3" width="3.4" height=".9" fill="#777"/><rect x="166.2" y="371.3" width="4" height=".9" fill="#333"/>
  <!-- nav -->
  <rect x="71.4" y="327.6" width="5.4" height="1.1" fill="#8a8d90"/><rect x="77.8" y="327.6" width="7.6" height="1.1" fill="#8a8d90"/>
  <rect x="133" y="327.8" width="3" height=".7" fill="#ccc"/><rect x="138" y="327.8" width="3" height=".7" fill="#ccc"/><rect x="143" y="327.8" width="3" height=".7" fill="#ccc"/>
  <rect x="188" y="327.6" width="2.2" height="1" fill="#bbb"/><rect x="193.6" y="327.4" width="1.4" height="1.4" fill="#bbb"/>
  <circle cx="203.6" cy="328.2" r="2" fill="#b97749"/><circle cx="203.6" cy="327.6" r=".9" fill="#e7c3a4"/>
  <!-- left column -->
  <rect x="72" y="347.2" width="1.4" height="1.6" fill="#5b4bd6"/><rect x="75.6" y="347.4" width="15.6" height="1.2" fill="#7b6fe0" opacity=".8"/>
  <rect x="72" y="383.7" width="39.6" height=".9" fill="#a3a7ab"/><rect x="72" y="386.7" width="38" height=".9" fill="#a3a7ab"/>
  <rect x="72.3" y="392.3" width="38.8" height="7" rx="3.5" fill="#fff" stroke="#b5babd" stroke-width=".6"/>
  <rect x="75" y="395.4" width="11" height=".8" fill="#d0d4d7"/>
  <rect x="94.6" y="392.3" width="16.6" height="7" rx="3.2" fill="#38bccb"/>
  <rect x="98" y="395.3" width="9.4" height="1" fill="#fff" opacity=".7"/>
  <rect x="72" y="411.8" width="13" height="1.2" fill="#555"/>
  <!-- right column -->
  <circle cx="191.7" cy="347.9" r="4.3" fill="#16181b"/><circle cx="190.8" cy="346.4" r="1.3" fill="#666" />
  <rect x="202.4" y="361" width="7.4" height="4" rx="2" fill="#d8f2e6"/><circle cx="205" cy="363" r="1.1" fill="none" stroke="#2c8a6a" stroke-width=".5"/><circle cx="207.4" cy="363" r="1.1" fill="none" stroke="#2c8a6a" stroke-width=".5"/>
  <rect x="186" y="387.6" width="22" height=".7" fill="#d5d9dc"/><rect x="186" y="391" width="17" height=".7" fill="#d5d9dc"/>
  <rect x="186" y="407.2" width="22" height=".7" fill="#d5d9dc"/><rect x="186" y="410.6" width="22" height=".7" fill="#d5d9dc"/>
 </svg>
 <div class="t" style="left:11.7px;top:31.4px;font-size:7.3px;font-weight:700;color:#15171a;letter-spacing:-.1px;-webkit-text-stroke:.15px #15171a">The Best</div>
 <div class="t" style="left:11.7px;top:41px;font-size:7.3px;font-weight:700;color:#15171a;letter-spacing:-.1px;-webkit-text-stroke:.15px #15171a">Payments</div>
 <div class="t" style="left:11.7px;top:50.2px;font-size:7.3px;font-weight:700;color:#15171a;letter-spacing:-.1px;-webkit-text-stroke:.15px #15171a">Experience</div>
 <div class="t" style="left:125.7px;top:33.8px;font-size:4.3px;color:#15171a;-webkit-text-stroke:.12px #15171a">World Class</div>
 <div class="t" style="left:125.7px;top:38.8px;font-size:4.3px;color:#15171a;-webkit-text-stroke:.12px #15171a">Experts</div>
 <div class="t" style="left:125.7px;top:56.2px;font-size:6px;color:#15171a;-webkit-text-stroke:.18px #15171a">12k+</div>
 <div class="t" style="left:125.7px;top:75.6px;font-size:5.8px;color:#15171a;-webkit-text-stroke:.18px #15171a">0%</div>
</div><div class="a" style="left:229.3px;top:321.2px;width:70.5px;height:42.3px;border:.9px solid #8e9398;border-radius:3.5px;"></div>
<div class="t" style="left:235.3px;top:330.1px;font-size:6.2px;color:#15171a;-webkit-text-stroke:.15px #15171a">Eligible</div>
<div class="t teal" style="left:234.9px;top:340.4px;font-size:11.6px;letter-spacing:-.2px"><span style="margin:0 -0.65px 0 0">1</span>0,20,<span style="margin:0 -0.65px">1</span>50</div>
<div class="a" style="left:307.3px;top:321.2px;width:70.5px;height:42.3px;border:.9px solid #8e9398;border-radius:3.5px;border-right:none;border-radius:3.5px 0 0 3.5px;width:69.9px;"></div>
<div class="t" style="left:313.3px;top:330.1px;font-size:6.2px;color:#15171a;-webkit-text-stroke:.15px #15171a">Presented</div>
<div class="t teal" style="left:312.9px;top:340.4px;font-size:11.6px;letter-spacing:0">6,<span style="margin:0 -0.65px">1</span>8,204</div>
<div class="a" style="left:229.3px;top:369.3px;width:70.5px;height:44.3px;border:.9px solid #8e9398;border-radius:3.5px;"></div>
<div class="t" style="left:235.3px;top:380.2px;font-size:6.2px;color:#15171a;-webkit-text-stroke:.15px #15171a">Contacted</div>
<div class="t teal" style="left:234.9px;top:390.1px;font-size:11.6px;letter-spacing:0"><span style="margin:0 -0.65px 0 0">1</span>,98,430</div>
<div class="a" style="left:307.3px;top:369.3px;width:70.5px;height:44.3px;border:.9px solid #8e9398;border-radius:3.5px;border-right:none;border-radius:3.5px 0 0 3.5px;width:69.9px;"></div>
<div class="t" style="left:313.3px;top:380.2px;font-size:6.2px;color:#15171a;-webkit-text-stroke:.15px #15171a">Accepted</div>
<div class="t teal" style="left:312.9px;top:390.1px;font-size:11.6px;letter-spacing:.2px">99,235</div>

<div class="t" style="left:403.6px;top:310.4px;font-size:6.3px;color:#15171a;letter-spacing:.02px;-webkit-text-stroke:.2px #15171a">Insurance_23EDY</div>
<div class="t" style="left:511.6px;top:310.8px;font-size:5.4px;color:#777">Created by: Matthew M</div>
<div class="t" style="left:687.0px;top:310.8px;font-size:5.6px;color:#777">Status: <span style="color:#222">Active</span></div>

<div class="a" style="left:403.1px;top:321.6px;width:162.8px;height:92.2px;border:.8px solid #d2d6d9;border-radius:4px;background:#fff;overflow:hidden">
 <svg style="left:-.8px;top:-.8px" width="163" height="93" viewBox="59.5 321.6 163 93">
  <!-- arch -->
  <path d="M123.2 414 V364.4 a22.9 22.9 0 0 1 45.8 0 V414 Z" fill="#c3ced0"/>
  <!-- hand -->
  <path d="M152 414 L156 405 L159.6 400 V380.6 Q160.6 376.6 164.2 376.4 Q168 376.4 169.4 381 L172.4 396 L175 414 Z" fill="#6b4231"/>
  <path d="M131 386.6 q-2.6 .4 -2.4 2.6 t3 2.2 M131 396 q-2.6 .4 -2.4 2.6 t3 2.2" fill="#9a6a58" stroke="#9a6a58" stroke-width="2.2"/>
  <!-- phone -->
  <rect x="132.7" y="355.2" width="27.4" height="64" rx="2.6" fill="#0a1c30"/>
  <rect x="134" y="356.8" width="24.8" height="60" rx="1.8" fill="#123a5e"/>
  <circle cx="146.4" cy="372" r="11" fill="url(#glow2)"/>
  <circle cx="146.4" cy="371.6" r="5.2" fill="none" stroke="#a9e8f2" stroke-width="2.2"/>
  <circle cx="146.4" cy="372.2" r="3" fill="#c7a3a6"/>
  <rect x="144" y="361.6" width="4.6" height="1.6" fill="#9fd9e6" opacity=".8"/>
  <path d="M141.4 393.4 L149.6 391.6 L150.4 401.6 L142.6 403.4 Z" fill="#c49a9c"/><path d="M151 391.6 L159 390.4 L159.4 401 L151.6 402.6 Z" fill="#cfa5a4"/>
  <path d="M138.4 404.4 L148.6 402.2 L149.4 406 L139.6 408.6 Z M150.4 402.6 L159.2 400.8 L159.4 405.4 L151 407.2 Z" fill="none" stroke="#67d3e4" stroke-width=".9"/>
  <defs><radialGradient id="glow2"><stop offset="0" stop-color="#58c4dd"/><stop offset=".55" stop-color="#3a9cc0" stop-opacity=".85"/><stop offset="1" stop-color="#123a5e" stop-opacity="0"/></radialGradient></defs>
  <!-- floating cards -->
  <rect x="116" y="376.6" width="23.6" height="9.4" rx="1.6" fill="#dfe5e7" opacity=".6"/><rect x="116.4" y="376.2" width="22.6" height="8.6" rx="1.2" fill="#fff"/><rect x="118.2" y="378.2" width="5" height="5.2" rx="1" fill="#2fb7c6"/><rect x="125" y="379" width="4" height=".9" fill="#444"/><rect x="125" y="381.4" width="6" height=".7" fill="#aaa"/><rect x="133.6" y="380" width="4" height="1" fill="#333"/>
  <rect x="155.4" y="366.8" width="22.8" height="9.2" rx="1.6" fill="#e3e8ea" opacity=".7"/><rect x="155.9" y="366.6" width="21.6" height="8.2" rx="1.2" fill="#fff"/><rect x="157.6" y="368.2" width="7" height=".8" fill="#999"/><circle cx="158.8" cy="371.8" r="1" fill="#d9362f"/><rect x="161.4" y="371.3" width="3.4" height=".9" fill="#777"/><rect x="166.2" y="371.3" width="4" height=".9" fill="#333"/>
  <!-- nav -->
  <rect x="71.4" y="327.6" width="5.4" height="1.1" fill="#8a8d90"/><rect x="77.8" y="327.6" width="7.6" height="1.1" fill="#8a8d90"/>
  <rect x="133" y="327.8" width="3" height=".7" fill="#ccc"/><rect x="138" y="327.8" width="3" height=".7" fill="#ccc"/><rect x="143" y="327.8" width="3" height=".7" fill="#ccc"/>
  <rect x="188" y="327.6" width="2.2" height="1" fill="#bbb"/><rect x="193.6" y="327.4" width="1.4" height="1.4" fill="#bbb"/>
  <circle cx="203.6" cy="328.2" r="2" fill="#b97749"/><circle cx="203.6" cy="327.6" r=".9" fill="#e7c3a4"/>
  <!-- left column -->
  <rect x="72" y="347.2" width="1.4" height="1.6" fill="#5b4bd6"/><rect x="75.6" y="347.4" width="15.6" height="1.2" fill="#7b6fe0" opacity=".8"/>
  <rect x="72" y="383.7" width="39.6" height=".9" fill="#a3a7ab"/><rect x="72" y="386.7" width="38" height=".9" fill="#a3a7ab"/>
  <rect x="72.3" y="392.3" width="38.8" height="7" rx="3.5" fill="#fff" stroke="#b5babd" stroke-width=".6"/>
  <rect x="75" y="395.4" width="11" height=".8" fill="#d0d4d7"/>
  <rect x="97" y="392.5" width="13.6" height="6.6" rx="2.4" fill="#1d1f22"/>
  <rect x="98" y="395.3" width="9.4" height="1" fill="#fff" opacity=".7"/>
  <rect x="72" y="411.8" width="13" height="1.2" fill="#555"/>
  <!-- right column -->
  <circle cx="191.7" cy="347.9" r="4.3" fill="#16181b"/><circle cx="190.8" cy="346.4" r="1.3" fill="#666" />
  <rect x="202.4" y="361" width="7.4" height="4" rx="2" fill="#d8f2e6"/><circle cx="205" cy="363" r="1.1" fill="none" stroke="#2c8a6a" stroke-width=".5"/><circle cx="207.4" cy="363" r="1.1" fill="none" stroke="#2c8a6a" stroke-width=".5"/>
  <rect x="186" y="387.6" width="22" height=".7" fill="#d5d9dc"/><rect x="186" y="391" width="17" height=".7" fill="#d5d9dc"/>
  <rect x="186" y="407.2" width="22" height=".7" fill="#d5d9dc"/><rect x="186" y="410.6" width="22" height=".7" fill="#d5d9dc"/>
 </svg>
 <div class="t" style="left:11.7px;top:31.4px;font-size:7.3px;font-weight:700;color:#15171a;letter-spacing:-.1px;-webkit-text-stroke:.15px #15171a">The Best</div>
 <div class="t" style="left:11.7px;top:41px;font-size:7.3px;font-weight:700;color:#15171a;letter-spacing:-.1px;-webkit-text-stroke:.15px #15171a">Payments</div>
 <div class="t" style="left:11.7px;top:50.2px;font-size:7.3px;font-weight:700;color:#15171a;letter-spacing:-.1px;-webkit-text-stroke:.15px #15171a">Experience</div>
 <div class="t" style="left:125.7px;top:33.8px;font-size:4.3px;color:#15171a;-webkit-text-stroke:.12px #15171a">World Class</div>
 <div class="t" style="left:125.7px;top:38.8px;font-size:4.3px;color:#15171a;-webkit-text-stroke:.12px #15171a">Experts</div>
 <div class="t" style="left:125.7px;top:56.2px;font-size:6px;color:#15171a;-webkit-text-stroke:.18px #15171a">12k+</div>
 <div class="t" style="left:125.7px;top:75.6px;font-size:5.8px;color:#15171a;-webkit-text-stroke:.18px #15171a">0%</div>
</div><div class="a" style="left:572.2px;top:321.2px;width:70.5px;height:42.3px;border:.9px solid #8e9398;border-radius:3.5px;"></div>
<div class="t" style="left:578.2px;top:330.1px;font-size:6.2px;color:#15171a;-webkit-text-stroke:.15px #15171a">Eligible</div>
<div class="t teal" style="left:577.8px;top:340.4px;font-size:11.6px;letter-spacing:0"><span style="margin:0 -1.0px 0 0">1</span><span style="margin:0 -1.0px">1</span>,24,<span style="margin:0 -1.0px">1</span><span style="margin:0 -1.0px">1</span>0</div>
<div class="a" style="left:650.2px;top:321.2px;width:70.5px;height:42.3px;border:.9px solid #8e9398;border-radius:3.5px;"></div>
<div class="t" style="left:656.2px;top:330.1px;font-size:6.2px;color:#15171a;-webkit-text-stroke:.15px #15171a">Presented</div>
<div class="t teal" style="left:655.8px;top:340.4px;font-size:11.6px;letter-spacing:0">7,<span style="margin:0 -0.65px">1</span>5,300</div>
<div class="a" style="left:572.2px;top:369.3px;width:70.5px;height:44.3px;border:.9px solid #8e9398;border-radius:3.5px;"></div>
<div class="t" style="left:578.2px;top:380.2px;font-size:6.2px;color:#15171a;-webkit-text-stroke:.15px #15171a">Contacted</div>
<div class="t teal" style="left:577.8px;top:390.1px;font-size:11.6px;letter-spacing:.4px">2,08,500</div>
<div class="a" style="left:650.2px;top:369.3px;width:70.5px;height:44.3px;border:.9px solid #8e9398;border-radius:3.5px;"></div>
<div class="t" style="left:656.2px;top:380.2px;font-size:6.2px;color:#15171a;-webkit-text-stroke:.15px #15171a">Accepted</div>
<div class="t teal" style="left:655.8px;top:390.1px;font-size:11.6px;letter-spacing:0"><span style="margin:0 -0.65px 0 0">1</span>,04,320</div>

</div></body></html>
